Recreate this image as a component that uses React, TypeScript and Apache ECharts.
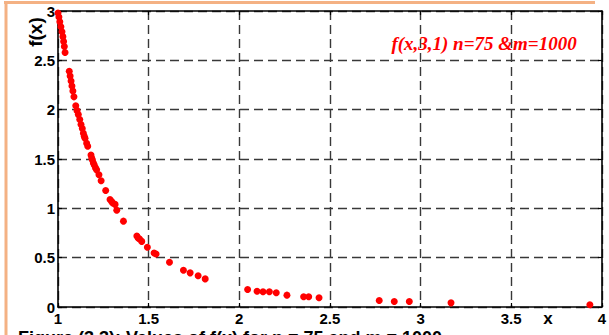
import React, { useEffect, useRef } from "react";
import * as echarts from "echarts";

const xValues = [
  1.0, 1.005, 1.01, 1.016, 1.022, 1.027, 1.031, 1.035, 1.039,
  1.062, 1.067, 1.072, 1.077, 1.082, 1.088, 1.098, 1.105, 1.112, 1.12,
  1.127, 1.134, 1.14, 1.145, 1.149, 1.158, 1.164, 1.182, 1.186, 1.19,
  1.195, 1.2, 1.207, 1.213, 1.226, 1.238, 1.263, 1.287, 1.296, 1.302,
  1.315, 1.324, 1.361, 1.435, 1.442, 1.45, 1.462, 1.493, 1.53, 1.541,
  1.615, 1.692, 1.729, 1.773, 1.812, 2.046, 2.098, 2.131, 2.166, 2.204,
  2.263, 2.355, 2.383, 2.44, 2.772, 2.855, 2.938, 3.168, 3.934,
];
const fValues = [
  2.98, 2.94, 2.89, 2.84, 2.79, 2.74, 2.69, 2.64, 2.58,
  2.39, 2.34, 2.29, 2.24, 2.19, 2.13, 2.04, 1.99, 1.95, 1.9,
  1.85, 1.81, 1.76, 1.73, 1.71, 1.66, 1.63, 1.54, 1.51, 1.49,
  1.46, 1.44, 1.41, 1.39, 1.34, 1.28, 1.18, 1.09, 1.07, 1.055,
  1.04, 0.98, 0.87, 0.72, 0.7, 0.69, 0.665, 0.605, 0.548, 0.538,
  0.453, 0.373, 0.346, 0.316, 0.285, 0.177, 0.16, 0.154, 0.154, 0.144,
  0.12, 0.103, 0.103, 0.093, 0.066, 0.056, 0.056, 0.042, 0.022,
];

const xTickLabels: Record<string, string> = { "1": "1", "1.5": "1.5", "2": "2", "2.5": "2.5", "3": "3", "3.5": "3.5", "4": "4" };
const yTickLabels: Record<string, string> = { "0": "0", "0.5": "0.5", "1": "1", "1.5": "1.5", "2": "2", "2.5": "2.5", "3": "3" };

const titleText = "f(x,3,1) n=75 &m=1000";
const captionText = "Figure (3.3): Values of f(x) for n = 75 and m = 1000";

export default function App() {
  const ref = useRef<HTMLDivElement>(null);
  useEffect(() => {
    document.body.style.margin = "0";
    if (!ref.current) return;
    const chart = echarts.init(ref.current, null, { renderer: "svg" });
    const gridColor = "#383838";
    const labelFont = {
      fontFamily: "Liberation Sans, Arial, sans-serif",
      fontWeight: "bold" as const,
      fontSize: 15,
      color: "#000",
    };
    const splitDash = { color: gridColor, width: 1.4, type: [9, 5] as number[] };
    chart.setOption({
      animation: false,
      backgroundColor: "#fff",
      grid: { left: 58, top: 11, right: 7, bottom: 28, containLabel: false },
      xAxis: [
        {
          type: "value",
          min: 1,
          max: 4,
          interval: 0.5,
          position: "bottom",
          axisLine: { show: true, onZero: false, lineStyle: { color: "#000", width: 1.6 } },
          axisTick: { show: true, inside: true, length: 4, lineStyle: { color: "#000", width: 1.2 } },
          axisLabel: {
            ...labelFont,
            margin: 4,
            formatter: (v: number) => xTickLabels[String(v)] ?? String(v),
          },
          splitLine: { show: true, lineStyle: splitDash },
        },
        {
          type: "value",
          min: 1,
          max: 4,
          interval: 0.5,
          position: "top",
          axisLine: { show: true, onZero: false, lineStyle: { color: "#000", width: 1.6 } },
          axisTick: { show: true, inside: true, length: 4, lineStyle: { color: "#000", width: 1.2 } },
          axisLabel: { show: false },
          splitLine: { show: false },
        },
      ],
      yAxis: [
        {
          type: "value",
          min: 0,
          max: 3,
          interval: 0.5,
          position: "left",
          axisLine: { show: true, onZero: false, lineStyle: { color: "#000", width: 1.6 } },
          axisTick: { show: true, inside: true, length: 4, lineStyle: { color: "#000", width: 1.2 } },
          axisLabel: {
            ...labelFont,
            margin: 3,
            formatter: (v: number) => yTickLabels[String(v)] ?? String(v),
          },
          splitLine: { show: true, lineStyle: splitDash },
        },
        {
          type: "value",
          min: 0,
          max: 3,
          interval: 0.5,
          position: "right",
          axisLine: { show: true, onZero: false, lineStyle: { color: "#000", width: 1.6 } },
          axisTick: { show: true, inside: true, length: 4, lineStyle: { color: "#000", width: 1.2 } },
          axisLabel: { show: false },
          splitLine: { show: false },
        },
      ],
      series: [
        {
          type: "scatter",
          xAxisIndex: 0,
          yAxisIndex: 0,
          symbol: "circle",
          symbolSize: 7,
          itemStyle: { color: "#ff0000", opacity: 1 },
          data: xValues.map((x, i) => [x, fValues[i]]),
          z: 5,
        },
      ],
      graphic: [
        {
          type: "line",
          shape: { x1: 4, y1: 2.5, x2: 595, y2: 2.5 },
          style: { stroke: "#f4b183", lineWidth: 3 },
        },
        {
          type: "line",
          shape: { x1: 6, y1: 1, x2: 6, y2: 335 },
          style: { stroke: "#f4b183", lineWidth: 3 },
        },
        {
          type: "text",
          x: 35,
          y: 32,
          rotation: Math.PI / 2,
          style: {
            text: "f(x)",
            fontFamily: "Liberation Sans, Arial, sans-serif",
            fontWeight: "bold",
            fontSize: 19,
            fill: "#000",
            align: "center",
            verticalAlign: "middle",
          },
        },
        {
          type: "text",
          x: 548,
          y: 318,
          style: {
            text: "x",
            fontFamily: "Liberation Sans, Arial, sans-serif",
            fontWeight: "bold",
            fontSize: 17,
            fill: "#000",
            align: "center",
            verticalAlign: "middle",
          },
        },
        {
          type: "text",
          x: 484,
          y: 43,
          style: {
            text: titleText,
            fontFamily: "Liberation Serif, Times New Roman, serif",
            fontWeight: "bold",
            fontStyle: "italic",
            fontSize: 19,
            fill: "#ff0000",
            align: "center",
            verticalAlign: "middle",
          },
        },
        {
          type: "text",
          x: 18,
          y: 329,
          style: {
            text: captionText,
            fontFamily: "Liberation Sans, Arial, sans-serif",
            fontWeight: "bold",
            fontSize: 18,
            fill: "#000",
            align: "left",
            verticalAlign: "top",
          },
        },
      ],
    });
    return () => chart.dispose();
  }, []);
  return <div ref={ref} style={{ width: 609, height: 335 }} />;
}
